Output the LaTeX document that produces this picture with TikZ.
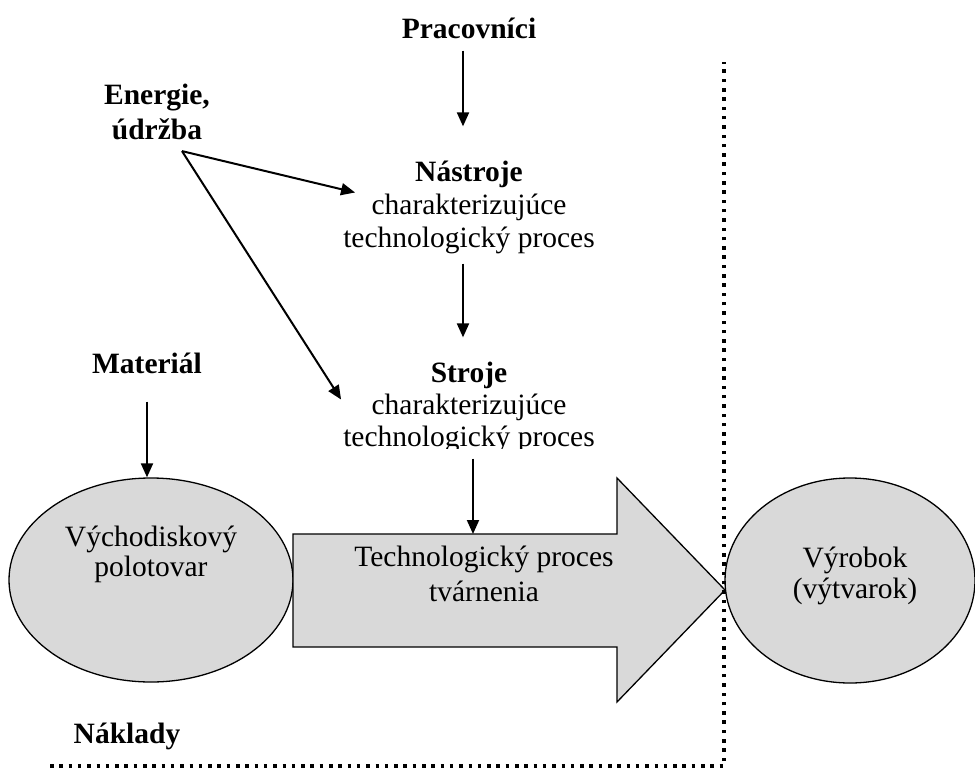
\documentclass[tikz,border=0pt]{standalone}
\usepackage{fontspec}
\setmainfont{Liberation Serif}
\usetikzlibrary{calc,shapes.geometric,arrows.meta}

\begin{document}
\begin{tikzpicture}[x=1pt, y=-1pt, >={Triangle[length=14pt,width=12pt]},
  % Labels: plain and bold
  plaintxt/.style={inner sep=0pt, align=center, font=\fontsize{29.5}{33}\selectfont},
  boldtxt/.style={inner sep=0pt, align=center, font=\fontsize{29.5}{35}\selectfont\bfseries},
  % Gray shapes
  grayell/.style={draw, ellipse, fill=gray!30, line width=1.3pt, inner sep=0pt},
  grayarrow/.style={draw, fill=gray!30, line width=1.3pt},
  % Connectors
  flow/.style={->, line width=2pt},
  border/.style={line width=3.5pt, dash pattern=on 3.5pt off 5.8pt}
]
  \useasboundingbox (0,0) rectangle (975,768);

  % Inputs at the top
  \node[boldtxt] (prac)    at (469,28)  {Pracovníci};
  \node[boldtxt] (energie) at (157,112) {Energie,\\údržba};
  \node[boldtxt] (material) at (147,363) {Materiál};

  % Centre column
  \node[plaintxt] (nastroje) at (469,207) {\textbf{Nástroje}\\charakterizujúce\\technologický proces};
  \begin{scope}
    \clip (300,340) rectangle (660,448);
    \node[plaintxt, font=\fontsize{29.5}{32}\selectfont] (stroje) at (469,407) {\textbf{Stroje}\\charakterizujúce\\technologický proces};
  \end{scope}

  % Left ellipse
  \node[grayell, minimum width=284pt, minimum height=204pt] (polotovar) at (151,580) {};
  \node[plaintxt, font=\fontsize{29.5}{30}\selectfont] (polotxt) at (151,554) {Východiskový\\polotovar};

  % Big process arrow
  \draw[grayarrow] (293,534) -- (617,534) -- (617,478) -- (725,590) coordinate (tip)
    -- (617,702) -- (617,647) -- (293,647) -- cycle;
  \coordinate (proctop) at (473,534);
  \node[plaintxt, font=\fontsize{29.5}{35}\selectfont] (proces) at (484,573.5) {Technologický proces\\tvárnenia};

  % Right ellipse
  \node[grayell, minimum width=250pt, minimum height=205pt] (vyrobok) at (850,580.5) {};
  \node[plaintxt, font=\fontsize{29.5}{31}\selectfont] (vyrtxt) at (855,576) {Výrobok\\(výtvarok)};

  % Costs
  \node[boldtxt, anchor=base] (naklady) at (127,743) {Náklady};
  \coordinate (bl) at (50,766);
  \coordinate (br) at (724,766);
  \coordinate (tr) at (724,62);
  \draw[border] (bl) -- (br) -- (tr);

  % --- Arrows ---
  \draw[flow] ([xshift=-6pt,yshift=-12pt]prac.south) -- ([xshift=-6pt,yshift=34pt]nastroje.north);
  \draw[flow] ([xshift=-6pt,yshift=-10pt]nastroje.south) -- ([xshift=-6pt,yshift=24pt]stroje.north);
  \draw[flow] ([xshift=4pt,yshift=-6pt]stroje.south) -- (proctop);
  \draw[flow] ([yshift=-28pt]material.south) -- ([xshift=-4pt]polotovar.north);

  % Energie feeds both blocks
  \coordinate (eu) at ([xshift=25pt,yshift=-11pt]energie.south);
  \draw[flow] (eu) -- ([xshift=12pt,yshift=14.5pt]nastroje.west);
  \draw[flow] (eu) -- ([xshift=-2pt,yshift=7.5pt]stroje.west);
\end{tikzpicture}
\end{document}
